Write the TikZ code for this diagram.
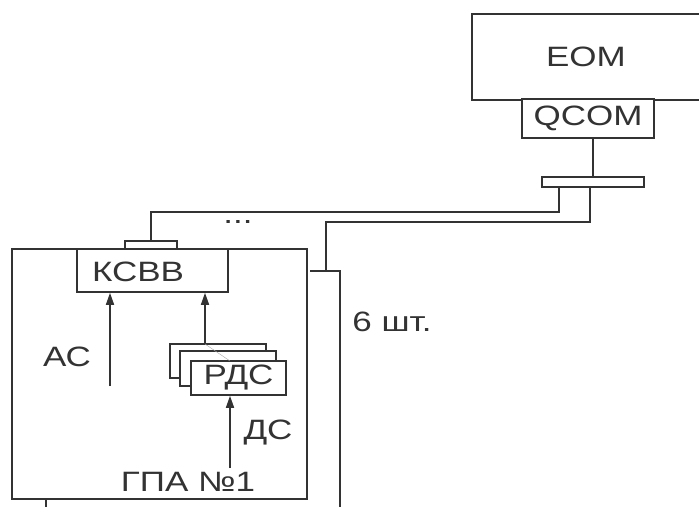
\documentclass[tikz,border=0pt]{standalone}
\usepackage{fontspec}
\setmainfont{Liberation Sans}[FakeStretch=1.25]
\usetikzlibrary{arrows.meta,calc}

\begin{document}
\begin{tikzpicture}[x=1pt,y=-1pt,
  line width=1.6pt,color=black!80,
  every node/.style={font=\fontsize{28}{30}\selectfont},
  box/.style={draw,fill=white,inner sep=0pt},
  sig/.style={-{Triangle[length=12pt,width=8pt]}}]
\useasboundingbox (0,0) rectangle (699,507);
% upper part
\node[inner sep=0pt,minimum width=226pt,minimum height=84pt] (eom) at (586,57) {ЕОМ};
\draw (eom.north east) -- (eom.north west) -- (eom.south west) -- (eom.south east);
\node[box,minimum width=132pt,minimum height=39pt] (qcom) at (588,118.5) {QCOM};
\node[box,minimum width=102pt,minimum height=10pt] (bar) at (593,182) {};
\draw (bar.north |- qcom.south) -- (bar.north);
% station
\node[box,minimum width=295pt,minimum height=250pt] (gpa) at (159.5,374) {};
\node[box,minimum width=52pt,minimum height=9pt] (kbar) at (151,245.5) {};
\node[box,minimum width=151pt,minimum height=43pt] (kcbb) at (152.5,270.5) {};
\node (kcbbl) at (138,272) {КСВВ};
\node[box,minimum width=96pt,minimum height=34pt] (rds3) at (218,361) {};
\node[box,minimum width=96pt,minimum height=35pt] (rds2) at (228,368.5) {};
\node[box,minimum width=95pt,minimum height=34pt] (rds) at (238.5,378) {РДС};
\coordinate (acs) at (110,386);
\draw[sig] (acs) -- (acs |- kcbb.south);
\coordinate (rdsup) at (205,344);
\draw[sig] (rdsup) -- (rdsup |- kcbb.south);
\draw[gray!70,thin] (rdsup) -- (230,361);
\coordinate (dss) at (230,468);
\draw[sig] (dss) -- (dss |- rds.south);
\node (ac) at (67,357) {АС};
\node (ds) at (268,433) {ДС};
\node (gpal) at (188,482) {ГПА №1};
\coordinate (g0) at (46,507);
\draw (g0 |- gpa.south) -- (g0);
% lines to the bus
\coordinate (t1) at (559,212);
\draw (bar.south -| t1) -- (t1) -- (t1 -| kbar.north) -- (kbar.north);
\node (dots) at (238,222) {...};
\coordinate (t2) at (590,222);
\coordinate (t3) at (326,271);
\draw (bar.south -| t2) -- (t2) -- (t2 -| t3) -- (t3);
\coordinate (tk) at (310,271);
\coordinate (tr) at (340,271);
\coordinate (bend) at (340,507);
\draw (tk) -- (tr) -- (bend);
\node (cnt) at (392,322) {6 шт.};
\end{tikzpicture}
\end{document}
